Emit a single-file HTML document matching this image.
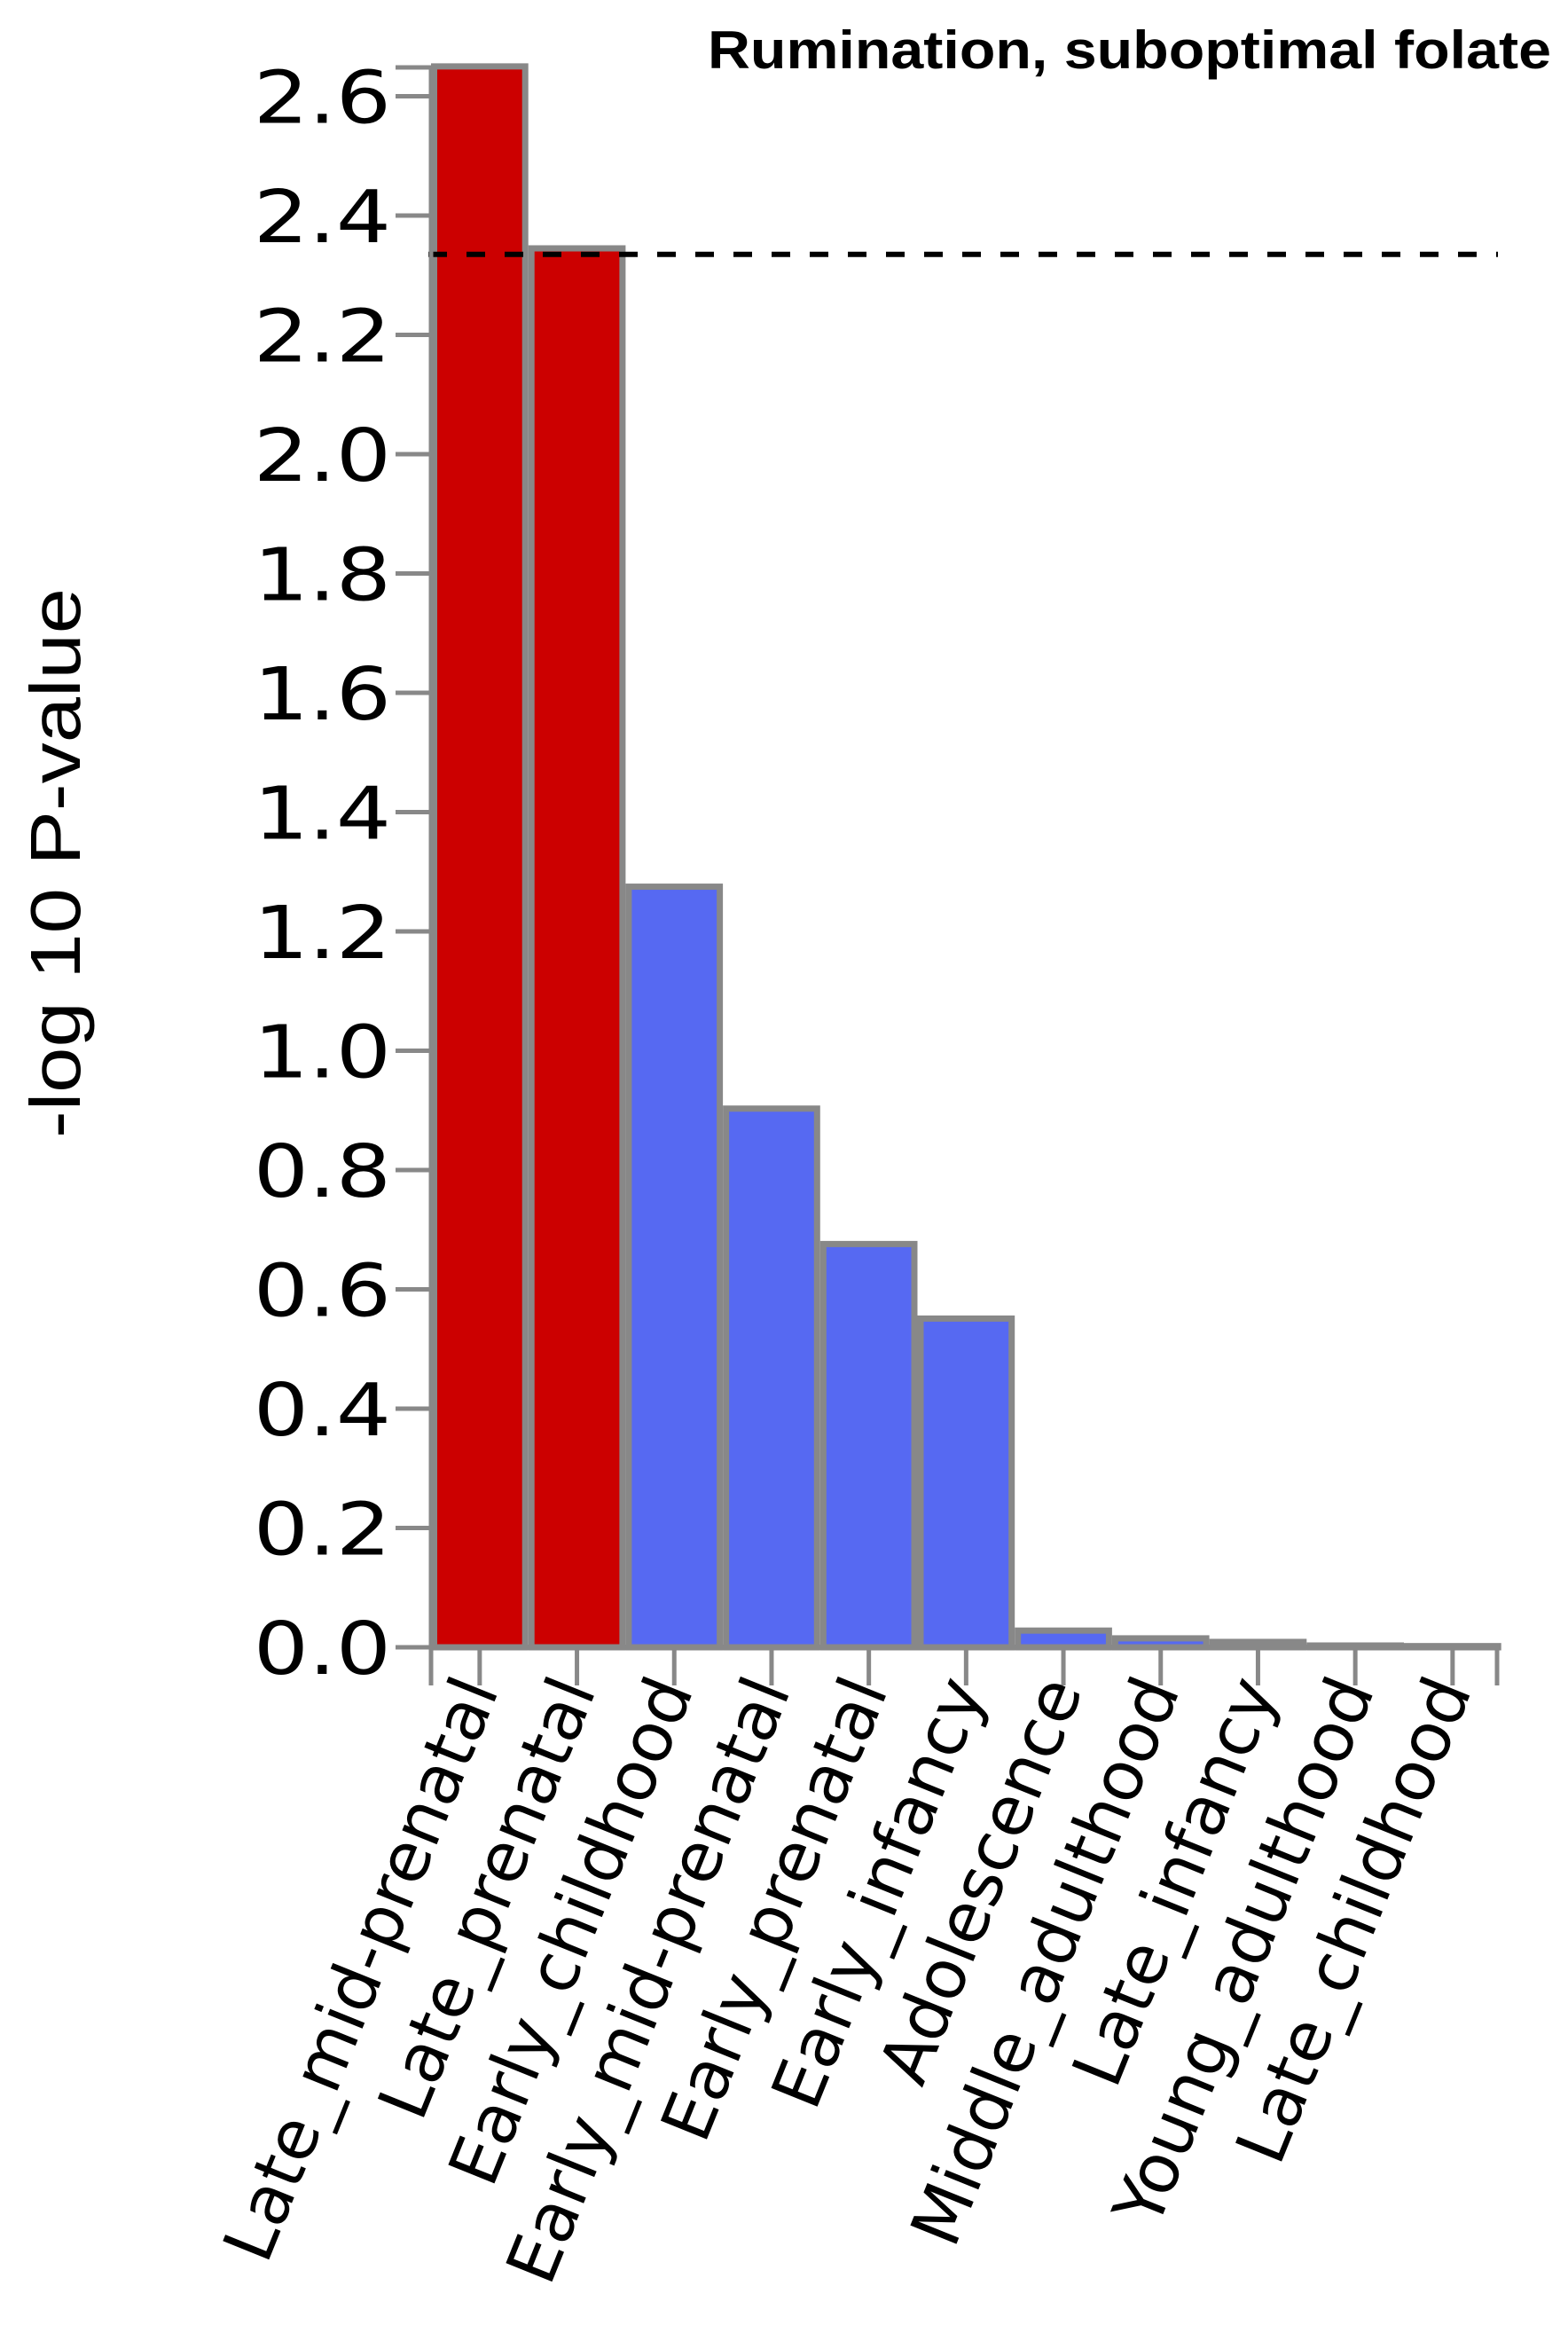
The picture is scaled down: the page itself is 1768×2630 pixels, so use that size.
<!DOCTYPE html>
<html><head><meta charset="utf-8"><style>
html,body{margin:0;padding:0;background:#fff;}
svg{display:block;}
</style></head><body>
<svg id="chart" width="1768" height="2630" viewBox="0 0 1768 2630" xmlns="http://www.w3.org/2000/svg">
<text x="798" y="77" font-family="Liberation Sans, sans-serif" font-weight="bold" font-size="60" textLength="951" lengthAdjust="spacingAndGlyphs">Rumination, suboptimal folate</text>
<text transform="translate(90,973) rotate(-90)" text-anchor="middle" font-family="Liberation Sans, sans-serif" font-size="80" textLength="620" lengthAdjust="spacingAndGlyphs">-log 10 P-value</text>
<g id="bars"></g>
<g id="axes"></g>
</svg>
<script>
const categories = ["Late_mid-prenatal","Late_prenatal","Early_childhood","Early_mid-prenatal","Early_prenatal","Early_infancy","Adolescence","Middle_adulthood","Late_infancy","Young_adulthood","Late_childhood"];
const values = [2.65, 2.345, 1.275, 0.903, 0.676, 0.551, 0.028, 0.015, 0.009, 0.003, 0.002];
const significant = [true, true, false, false, false, false, false, false, false, false, false];
const yTicks = [0, 0.2, 0.4, 0.6, 0.8, 1.0, 1.2, 1.4, 1.6, 1.8, 2.0, 2.2, 2.4, 2.6];
const threshold = 2.335;

const NS = "http://www.w3.org/2000/svg";
const x0 = 486, pitch = 109.7, yBase = 1857, pxPerUnit = 672.5, yTop = 76, xEnd = 1688;
function y(v){ return yBase - v * pxPerUnit; }
function xLeft(i){ return x0 + i * pitch; }
function mk(tag, attrs, parent){ const e = document.createElementNS(NS, tag); for (const k in attrs) e.setAttribute(k, attrs[k]); parent.appendChild(e); return e; }
const bars = document.getElementById('bars');
const axes = document.getElementById('axes');

values.forEach((v, i) => {
  const r = mk('rect', {x: xLeft(i) + 3.5, y: y(v), width: pitch - 7, height: Math.max(yBase - y(v), 0.5),
    fill: significant[i] ? '#cc0000' : '#5669f2', stroke: '#888888', 'stroke-width': 7}, bars);
  
  
});

const th = mk('line', {x1: 483, x2: 1689, y1: y(threshold), y2: y(threshold), stroke: '#000', 'stroke-width': 6, 'stroke-dasharray': '21 22'}, axes);



const ya = mk('line', {x1: x0, x2: x0, y1: yTop, y2: yBase + 2, stroke: '#888', 'stroke-width': 5}, axes);


const yt0 = mk('line', {x1: 446, x2: x0, y1: yTop, y2: yTop, stroke: '#888', 'stroke-width': 5}, axes);


yTicks.forEach(t => {
  const l = mk('line', {x1: 446, x2: x0, y1: y(t), y2: y(t), stroke: '#888', 'stroke-width': 5}, axes);
  
  
  const tx = mk('text', {transform: 'translate(441,' + (y(t) + 30) + ') scale(1.19,1)', 'text-anchor': 'end', 'font-family': 'DejaVu Sans, sans-serif', 'font-size': 82}, axes);
  tx.textContent = t.toFixed(1);
  
  
});

const xa = mk('line', {x1: x0, x2: xEnd, y1: yBase, y2: yBase, stroke: '#888', 'stroke-width': 6}, axes);


[x0, xEnd].forEach(xx => {
  const l = mk('line', {x1: xx, x2: xx, y1: yBase, y2: yBase + 43, stroke: '#888', 'stroke-width': 5}, axes);
  
  
});
categories.forEach((c, i) => {
  const cx = xLeft(i) + pitch / 2;
  const l = mk('line', {x1: cx, x2: cx, y1: yBase, y2: yBase + 43, stroke: '#888', 'stroke-width': 5}, axes);
  
  
  const tx = mk('text', {transform: 'translate(' + (cx + 22) + ',' + (yBase + 48) + ') rotate(-68)', 'text-anchor': 'end',
    'font-family': 'DejaVu Sans, sans-serif', 'font-size': 77}, axes);
  tx.textContent = c;
  
  
});
</script>
</body></html>
